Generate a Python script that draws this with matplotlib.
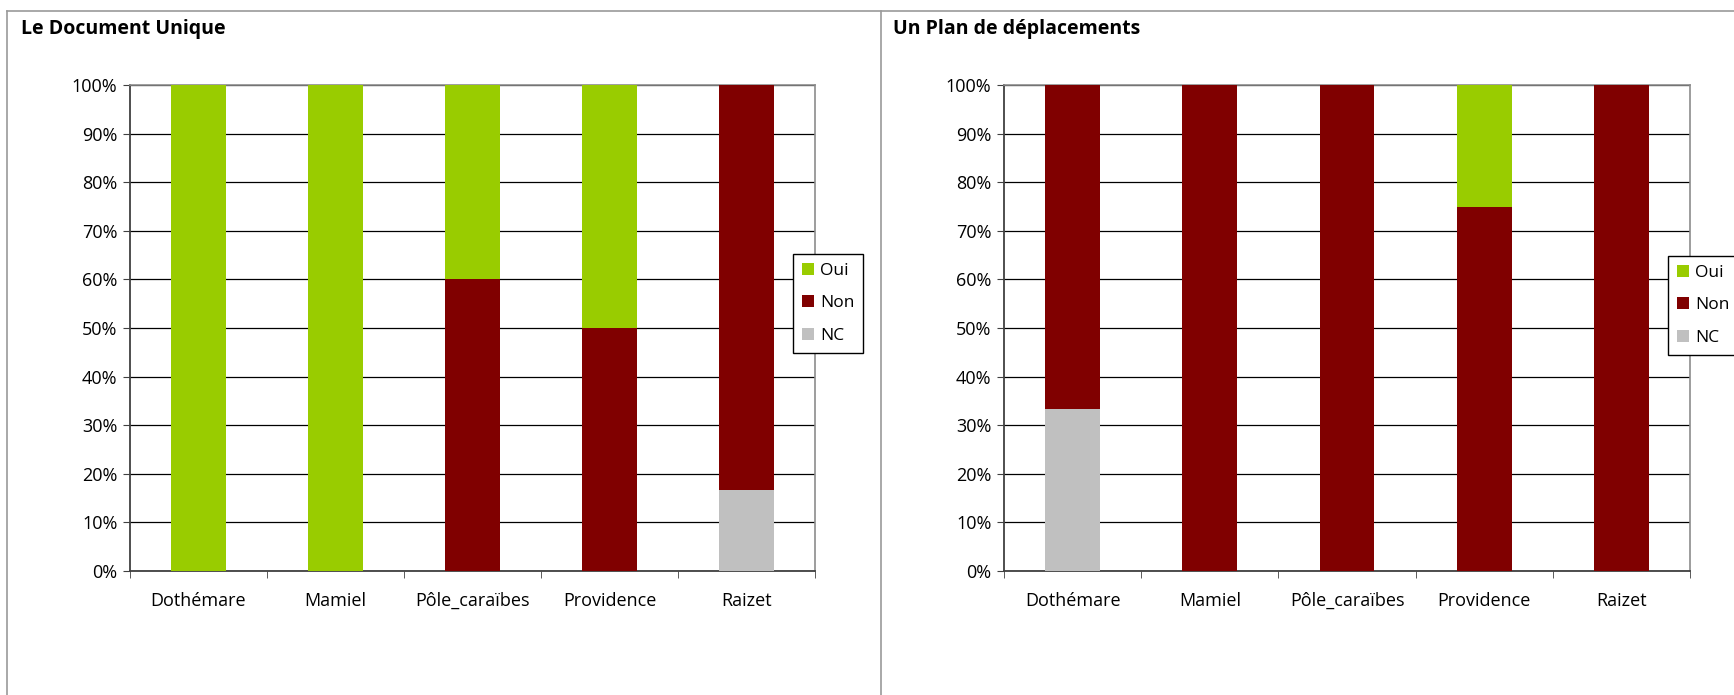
import matplotlib
matplotlib.use('Agg')
import matplotlib.pyplot as plt
from matplotlib.lines import Line2D
import numpy as np

plt.rcParams['font.family'] = ['Open Sans', 'DejaVu Sans']

sites = ['Dothémare', 'Mamiel', 'Pôle_caraïbes', 'Providence', 'Raizet']
series = ['Oui', 'Non', 'NC']
colors = {'Oui': '#99CC00', 'Non': '#800000', 'NC': '#C0C0C0'}

# Le Document Unique (parts en %)
du_oui = [100, 100, 40, 50, 0]
du_non = [0, 0, 60, 50, 83.3]
du_nc = [0, 0, 0, 0, 16.7]

# Un Plan de déplacements
pd_oui = [0, 0, 0, 25, 0]
pd_non = [66.7, 100, 100, 75, 100]
pd_nc = [33.3, 0, 0, 0, 0]

W, H = 1734, 695
fig = plt.figure(figsize=(W / 100, H / 100), dpi=100)

# cadres des deux graphiques
gray = '#9a9a9a'
fig.add_artist(Line2D([7 / W, 7 / W], [0, 1 - 11 / H], color=gray, lw=1.2))
fig.add_artist(Line2D([881 / W, 881 / W], [0, 1 - 11 / H], color=gray, lw=1.2))
fig.add_artist(Line2D([7 / W, 1], [1 - 11 / H, 1 - 11 / H], color=gray, lw=1.2))


def draw(ax_rect, title_x, title, oui, non, nc, leg_x, leg_y):
    ax = fig.add_axes(ax_rect)
    x = np.arange(len(sites))
    nc = np.array(nc); non = np.array(non); oui = np.array(oui)
    ax.bar(x, nc, 0.4, color=colors['NC'], label='NC', zorder=3)
    ax.bar(x, non, 0.4, bottom=nc, color=colors['Non'], label='Non', zorder=3)
    ax.bar(x, oui, 0.4, bottom=nc + non, color=colors['Oui'], label='Oui', zorder=3)
    ax.set_xlim(-0.5, 4.5)
    ax.set_ylim(0, 100)
    ax.set_yticks(range(0, 101, 10))
    ax.set_yticklabels(['%d%%' % v for v in range(0, 101, 10)])
    ax.set_xticks(x)
    ax.set_xticklabels(sites)
    ax.set_xticks(np.arange(-0.5, 5, 1), minor=True)
    ax.tick_params(axis='x', which='major', length=0, pad=15, labelsize=13)
    ax.tick_params(axis='x', which='minor', length=5, direction='out', color='#404040')
    ax.tick_params(axis='y', length=5, direction='out', pad=4, labelsize=13, color='#404040')
    ax.yaxis.grid(True, color='black', lw=0.9, zorder=0)
    for s in ['left', 'bottom']:
        ax.spines[s].set_color('#404040')
        ax.spines[s].set_linewidth(1.3)
    for s in ['top', 'right']:
        ax.spines[s].set_color('#8c8c8c')
        ax.spines[s].set_linewidth(1.2)
    h, l = ax.get_legend_handles_labels()
    leg = ax.legend(h[::-1], l[::-1], loc='upper left',
                    bbox_to_anchor=(leg_x / W, 1 - leg_y / H),
                    bbox_transform=fig.transFigure, fontsize=12.5,
                    handlelength=0.7, handleheight=0.7, handletextpad=0.35,
                    labelspacing=0.95, borderpad=0.5, borderaxespad=0,
                    fancybox=False, framealpha=1, edgecolor='black')
    leg.get_frame().set_linewidth(1.0)
    leg.set_zorder(5)
    fig.text(title_x / W, 1 - 34 / H, title, fontsize=14, fontweight='bold',
             va='baseline', ha='left')
    return ax


draw([130 / W, 1 - 571 / H, 685 / W, 486 / H], 21, 'Le Document Unique',
     du_oui, du_non, du_nc, 793, 254)
draw([1004 / W, 1 - 571 / H, 686 / W, 486 / H], 893, 'Un Plan de déplacements',
     pd_oui, pd_non, pd_nc, 1668, 256)

fig.savefig('out.png', dpi=100, facecolor='white')
